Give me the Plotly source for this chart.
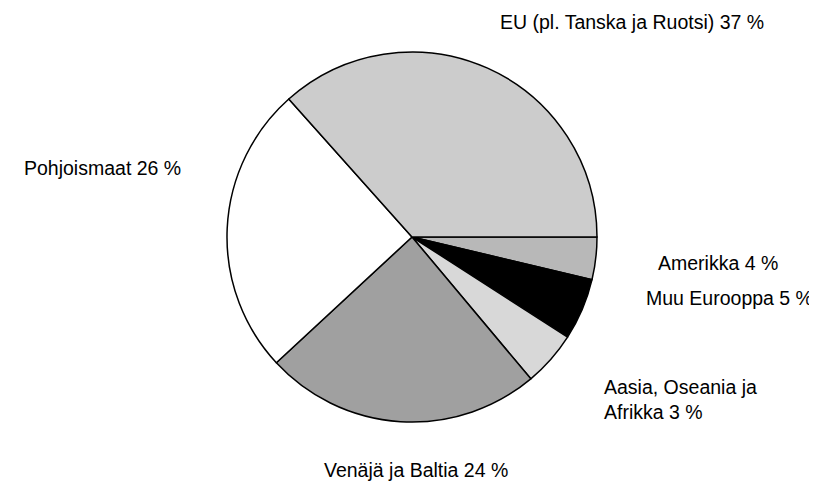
import plotly.graph_objects as go

# slices listed clockwise from 3 o'clock; slice sizes are read off the drawn
# wedge angles (the printed labels are rounded differently in the source)
regions = ["Amerikka", "Muu Eurooppa", "Aasia, Oseania ja Afrikka",
           "Venäjä ja Baltia", "Pohjoismaat", "EU (pl. Tanska ja Ruotsi)"]
shares = [3.7, 5.4, 4.8, 24.2, 25.3, 36.6]
label_texts = ["Amerikka 4 %", "Muu Eurooppa 5 %", "Aasia, Oseania ja<br>Afrikka 3 %",
               "Venäjä ja Baltia 24 %", "Pohjoismaat 26 %", "EU (pl. Tanska ja Ruotsi) 37 %"]
slice_colors = ["#b8b8b8", "#000000", "#d8d8d8", "#a0a0a0", "#ffffff", "#cccccc"]

W, H = 817, 494
cx, cy, r = 404, 229, 185

fig = go.Figure(go.Pie(
    labels=regions,
    values=shares,
    sort=False,
    direction="clockwise",
    rotation=90,
    textinfo="none",
    hoverinfo="label",
    marker=dict(colors=slice_colors, line=dict(color="black", width=1.5)),
    domain=dict(x=[(cx - r) / W, (cx + r) / W], y=[1 - (cy + r) / H, 1 - (cy - r) / H]),
    showlegend=False,
))

# label positions in pixels (left edge, vertical centre)
label_pos = [(648, 255), (636, 290), (594, 391), (314, 462), (14, 160), (490, 14)]
for txt, (px, py) in zip(label_texts, label_pos):
    fig.add_annotation(x=px / W, y=1 - py / H, xref="paper", yref="paper",
                       text=txt, showarrow=False, xanchor="left", yanchor="middle",
                       align="left", font=dict(size=19.5, color="black"))

fig.update_layout(
    width=W, height=H,
    margin=dict(l=0, r=0, t=0, b=0),
    paper_bgcolor="white",
    plot_bgcolor="white",
    font=dict(family="Liberation Sans, Arial, sans-serif", color="black"),
)

fig.write_html("out.html")
